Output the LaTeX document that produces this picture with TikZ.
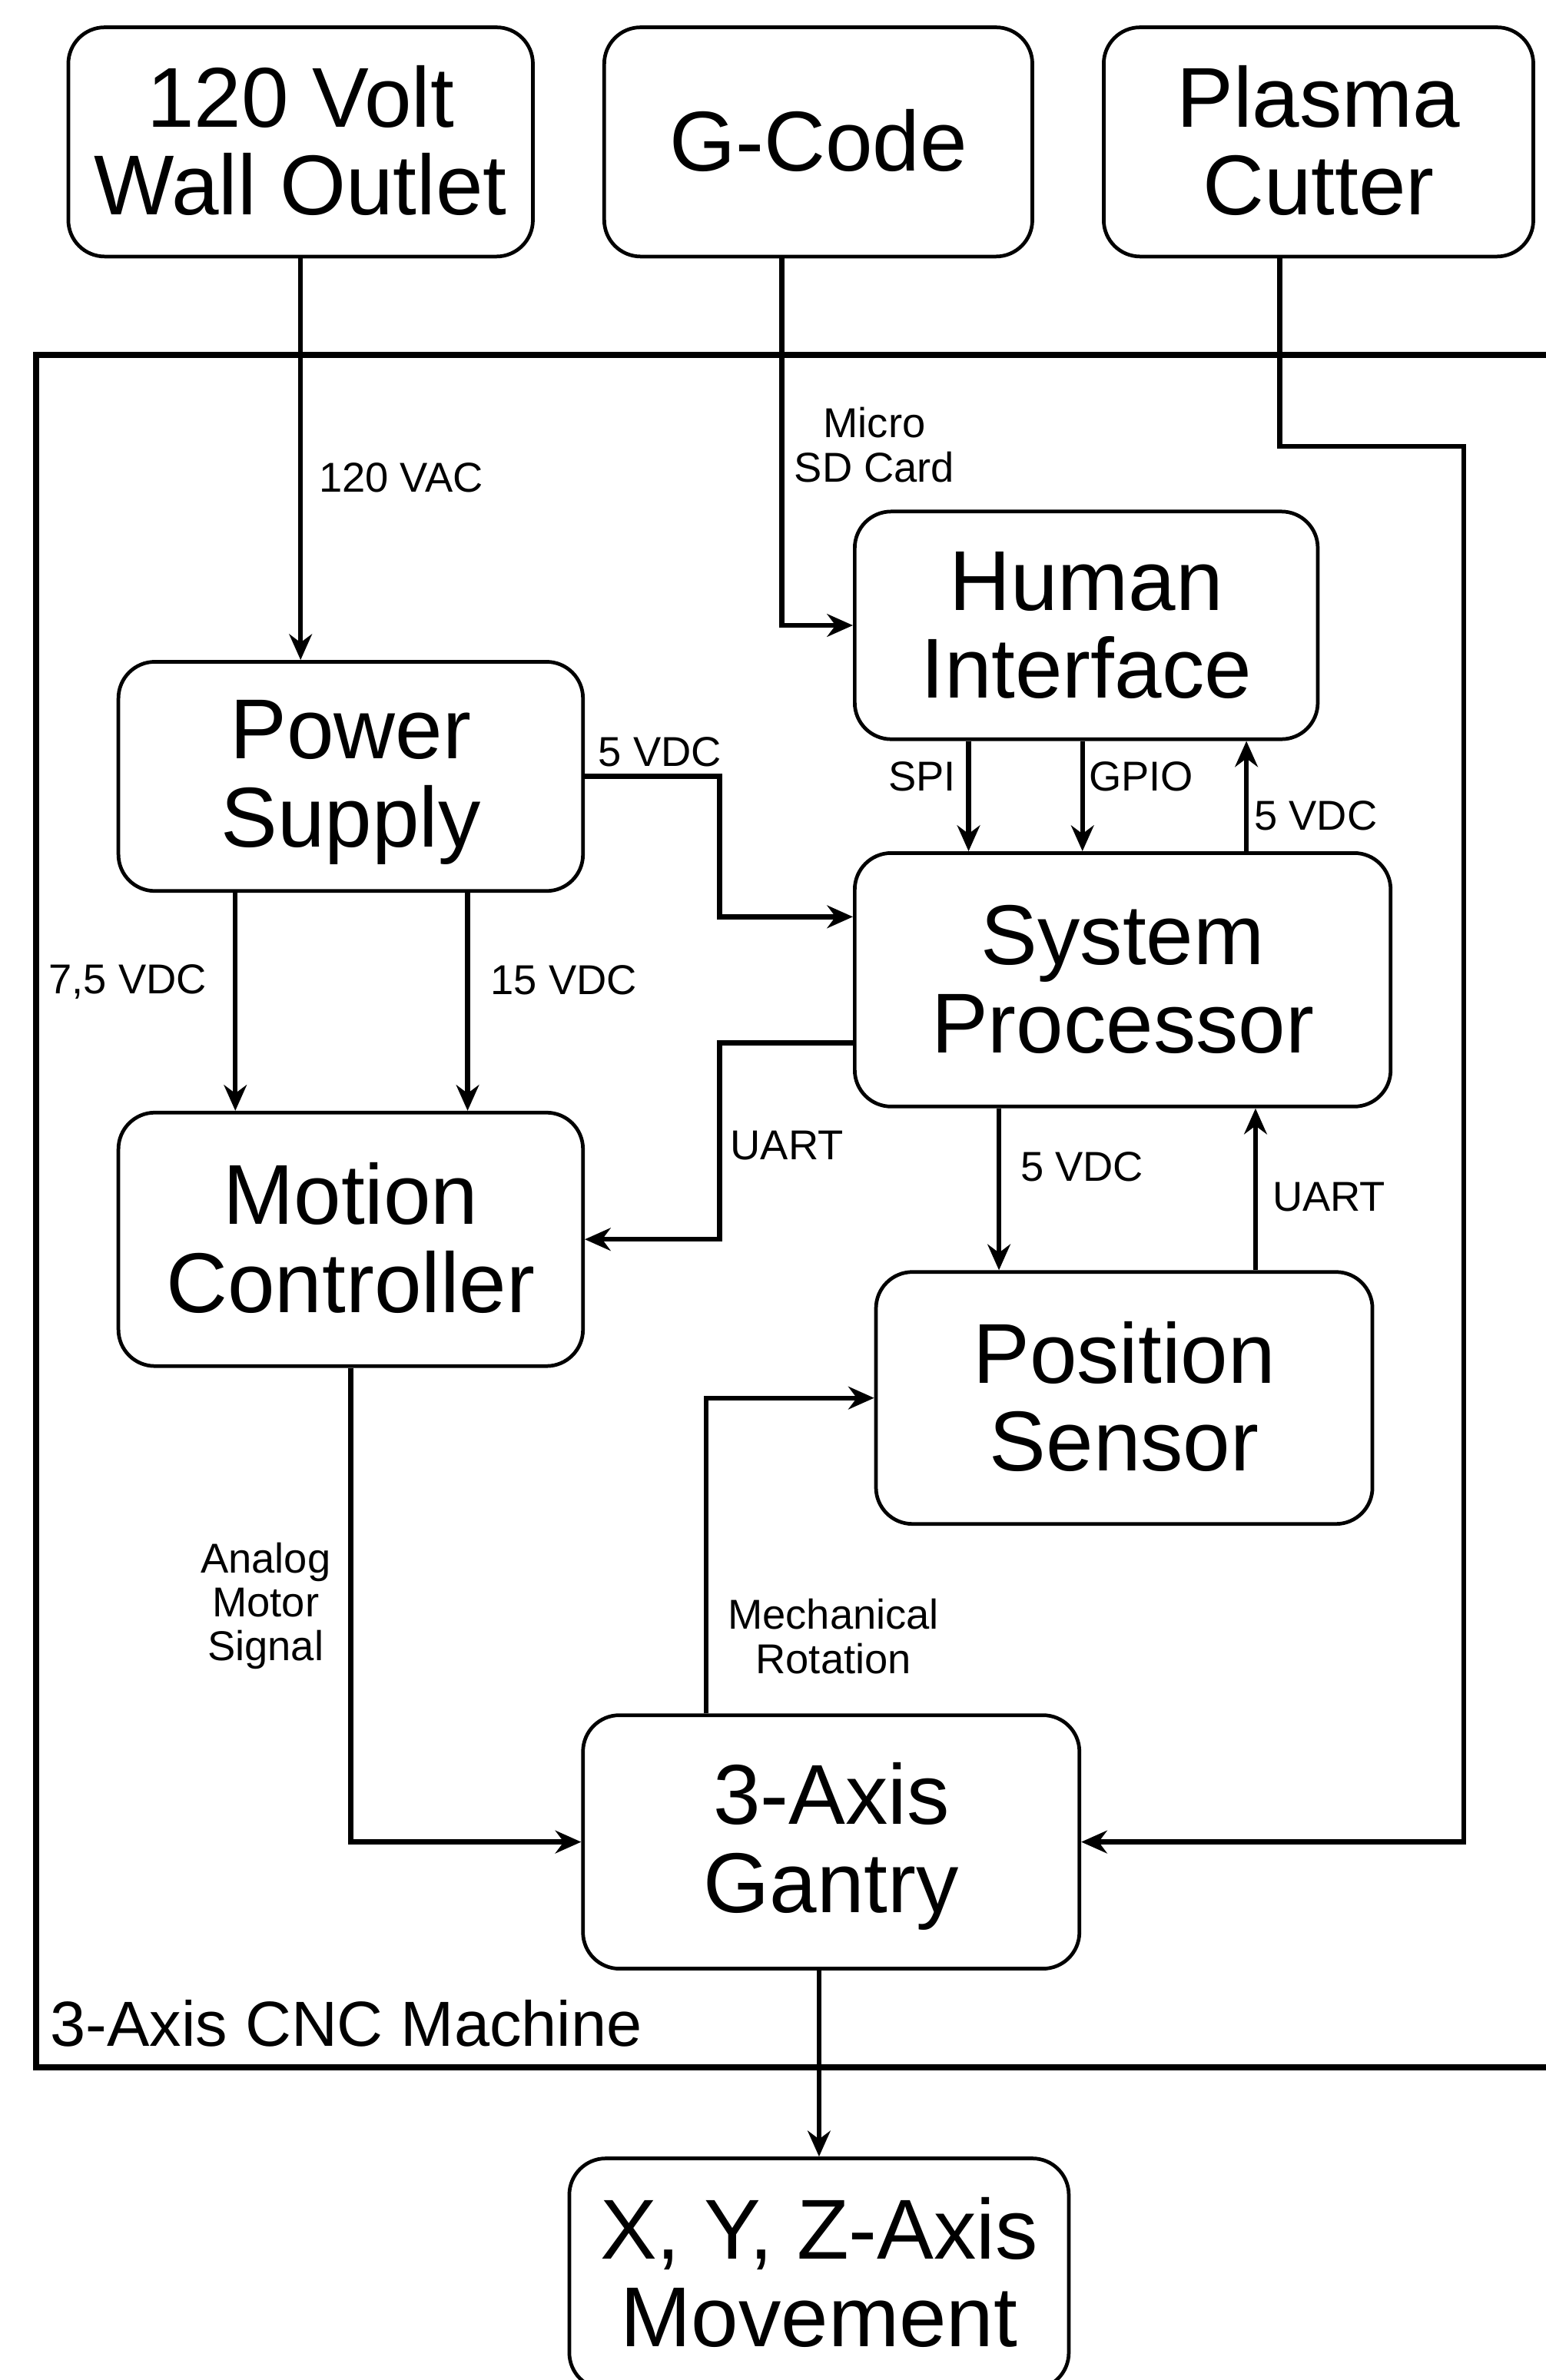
\documentclass[tikz,border=0pt]{standalone}
\usepackage{fontspec}
\setmainfont{Liberation Sans}
\usetikzlibrary{arrows.meta,calc}
\newcommand{\bst}{\rule[-8.2pt]{0pt}{54.5pt}}
\newcommand{\lst}{\rule[-3pt]{0pt}{22.1pt}}
\begin{document}
\begin{tikzpicture}[x=1pt,y=-1pt,
  blk/.style={draw=black, line width=2.4pt, fill=white, rounded corners=24pt,
    align=center, font=\fontsize{56}{58}\selectfont, inner sep=0pt},
  lbl/.style={font=\fontsize{27.5}{29}\selectfont, inner sep=0pt, align=center},
  conn/.style={line width=3.2pt, -{Stealth[length=17pt,width=15pt]}},
]
\useasboundingbox (0,0) rectangle (1018,1568);
\fill[white] (0,0) rectangle (1018,1568);

% container
\node[draw=black, line width=3.8pt, anchor=north west, minimum width=1040pt,
  minimum height=1128pt, inner sep=0pt] (cnc) at (22,232) {};
\node[font=\fontsize{42}{44}\selectfont, anchor=west, inner sep=0pt] (cnclbl) at (33,1333) {3-Axis CNC Machine};

% blocks
\node[blk, minimum width=306pt, minimum height=151pt] (outlet) at (198,93.5) {\bst 120 Volt\\\bst Wall Outlet};
\node[blk, minimum width=282pt, minimum height=151pt] (gcode) at (539,93.5) {\bst G-Code};
\node[blk, minimum width=283pt, minimum height=151pt] (plasma) at (868.5,93.5) {\bst Plasma\\\bst Cutter};
\node[blk, minimum width=305pt, minimum height=150pt] (hi) at (715.5,412) {\bst Human\\\bst Interface};
\node[blk, minimum width=306pt, minimum height=151pt] (ps) at (231,511.5) {\bst Power\\\bst Supply};
\node[blk, minimum width=353pt, minimum height=167pt] (sp) at (739.5,645.5) {\bst System\\\bst Processor};
\node[blk, minimum width=306pt, minimum height=167pt] (mc) at (231,816.5) {\bst Motion\\\bst Controller};
\node[blk, minimum width=327pt, minimum height=166pt] (pos) at (740.5,921) {\bst Position\\\bst Sensor};
\node[blk, minimum width=327pt, minimum height=167pt] (gantry) at (547.5,1213.5) {\bst 3-Axis\\\bst Gantry};
\node[blk, minimum width=329pt, minimum height=152pt] (xyz) at (539.5,1498) {\bst X, Y, Z-Axis\\\bst Movement};

% helper coordinates
\coordinate (gcS) at ([xshift=-24pt]gcode.south);
\coordinate (plS) at ([xshift=-25.5pt]plasma.south);
\coordinate (pl1) at (843,294);
\coordinate (pl2) at (964,294);
\coordinate (ps1) at (474,511.5);
\coordinate (spW1) at ([yshift=41.5pt]sp.west);
\coordinate (spW2) at ([yshift=-41.5pt]sp.west);
\coordinate (sp1) at (474,687);
\coordinate (psL) at ([xshift=-76pt]ps.south);
\coordinate (psR) at ([xshift=77pt]ps.south);
\coordinate (spiS) at ([xshift=-77.5pt]hi.south);
\coordinate (gpS) at ([xshift=-2.5pt]hi.south);
\coordinate (v5S) at ([xshift=81.5pt]sp.north);
\coordinate (p5S) at ([xshift=-81.5pt]sp.south);
\coordinate (puS) at ([xshift=86.5pt]pos.north);
\coordinate (gnN) at ([xshift=-82.5pt]gantry.north);

% connectors
\draw[conn] (outlet.south) -- (outlet.south |- ps.north);
\draw[conn] (gcS) |- (hi.west);
\draw[conn] (plS) -- (pl1) -- (pl2) |- (gantry.east);
\draw[conn] (ps.east) -- (ps1) |- (spW1);
\draw[conn] (psL) -- (psL |- mc.north);
\draw[conn] (psR) -- (psR |- mc.north);
\draw[conn] (spiS) -- (spiS |- sp.north);
\draw[conn] (gpS) -- (gpS |- sp.north);
\draw[conn] (v5S) -- (v5S |- hi.south);
\draw[conn] (spW2) -- (sp1) |- (mc.east);
\draw[conn] (p5S) -- (p5S |- pos.north);
\draw[conn] (puS) -- (puS |- sp.south);
\draw[conn] (mc.south) |- (gantry.west);
\draw[conn] (gnN) |- (pos.west);
\draw[conn] (xyz.north |- gantry.south) -- (xyz.north);

% labels
\node[lbl, anchor=west] (l120) at (210,316) {\lst 120 VAC};
\node[lbl] (lsd) at (576,294.5) {\lst Micro\\\lst SD Card};
\node[lbl, anchor=west] (l5a) at (394,497) {\lst 5 VDC};
\node[lbl, anchor=west] (l75) at (32,647) {\lst 7,5 VDC};
\node[lbl, anchor=west] (l15) at (323,647) {\lst 15 VDC};
\node[lbl, anchor=west] (lspi) at (585,513) {\lst SPI};
\node[lbl, anchor=west] (lgpio) at (717,513) {\lst GPIO};
\node[lbl, anchor=west] (l5b) at (826,539) {\lst 5 VDC};
\node[lbl, anchor=west] (luart1) at (481,756) {\lst UART};
\node[lbl, anchor=west] (l5c) at (672,770) {\lst 5 VDC};
\node[lbl, anchor=west] (luart2) at (838,790) {\lst UART};
\node[lbl] (lana) at (175,1058) {\lst Analog\\\lst Motor\\\lst Signal};
\node[lbl] (lmech) at (549,1079.5) {\lst Mechanical\\\lst Rotation};
\end{tikzpicture}
\end{document}
